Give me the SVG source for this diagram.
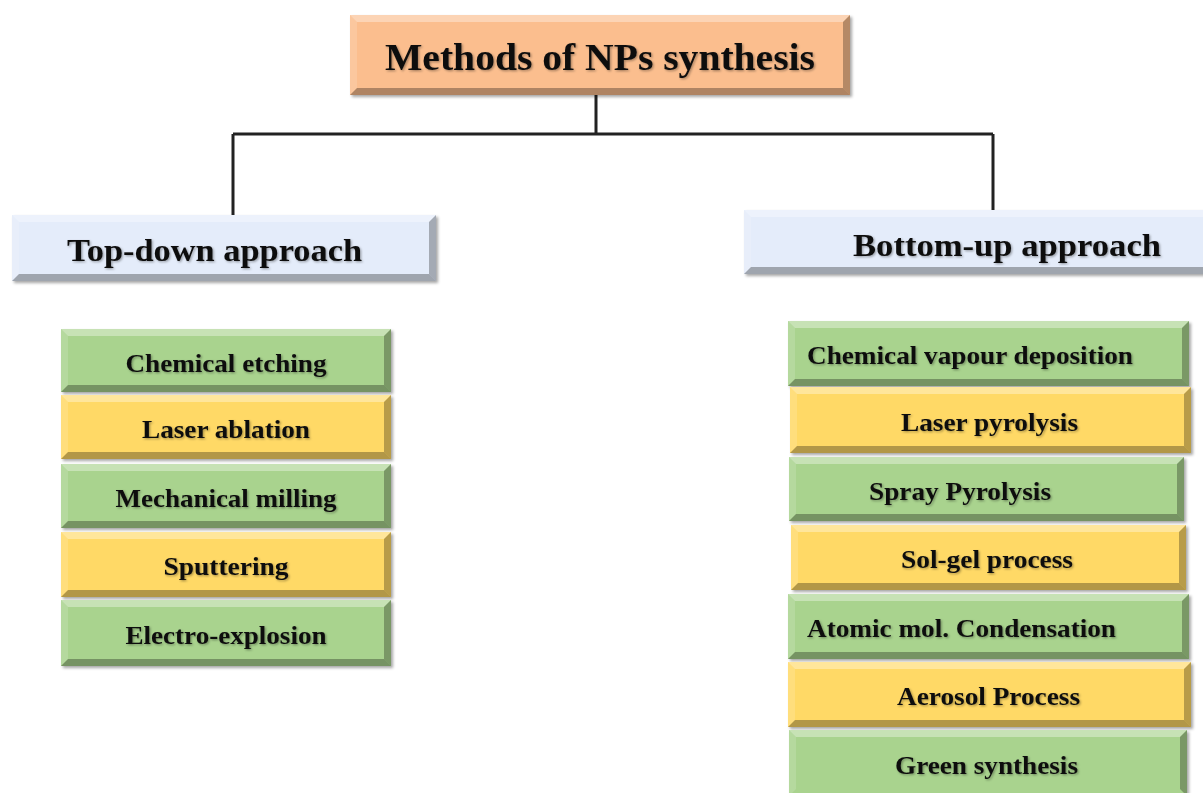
<svg xmlns="http://www.w3.org/2000/svg" width="1203" height="793" viewBox="0 0 1203 793">
<defs>
<filter id="sh" x="-5%" y="-10%" width="110%" height="130%">
<feDropShadow dx="2" dy="2" stdDeviation="1.5" flood-color="#000" flood-opacity="0.35"/>
</filter>
<filter id="tsh" x="-5%" y="-20%" width="110%" height="140%">
<feDropShadow dx="1.2" dy="1.2" stdDeviation="0.8" flood-color="#000" flood-opacity="0.35"/>
</filter>
</defs>
<style>
.orange{fill:#FBBE8E}
.blue{fill:#E4ECFA}
.green{fill:#A9D38E}
.yellow{fill:#FFD966}
.box{filter:url(#sh)}
.bt{fill:#fff;fill-opacity:0.35}
.bl{fill:#fff;fill-opacity:0.15}
.br{fill:#000;fill-opacity:0.28}
.bb{fill:#000;fill-opacity:0.3}
text{font-family:"Liberation Serif","Times New Roman",serif;font-weight:bold;fill:#111;filter:url(#tsh)}
.t0{font-size:38px}
.t1{font-size:32px}
.t2{font-size:26px}
.conn{stroke:#222;stroke-width:3;fill:none}
</style>

<g id="connectors">
<path class="conn" d="M596 95 V134 M233 134 H993 M233 134 V215 M993 134 V210"/>
</g>

<g id="title">
<rect class="box orange" x="350" y="15" width="500" height="80"/>
<polygon class="bt" points="350,15 850,15 843,22 357,22"/>
<polygon class="bl" points="350,15 357,22 357,88 350,95"/>
<polygon class="br" points="850,15 843,22 843,88 850,95"/>
<polygon class="bb" points="350,95 850,95 843,88 357,88"/>
<text class="t0" x="600" y="70" text-anchor="middle" textLength="430" lengthAdjust="spacingAndGlyphs">Methods of NPs synthesis</text>
</g>

<g id="top-down">
<rect class="box blue" x="12" y="215" width="424" height="66"/>
<polygon class="bt" points="12,215 436,215 429,222 19,222"/>
<polygon class="bl" points="12,215 19,222 19,274 12,281"/>
<polygon class="br" points="436,215 429,222 429,274 436,281"/>
<polygon class="bb" points="12,281 436,281 429,274 19,274"/>
<text class="t1" x="67" y="261" textLength="295" lengthAdjust="spacingAndGlyphs">Top-down approach</text>
</g>

<g id="bottom-up">
<rect class="box blue" x="744" y="210" width="470" height="64"/>
<polygon class="bt" points="744,210 1214,210 1207,217 751,217"/>
<polygon class="bl" points="744,210 751,217 751,267 744,274"/>
<polygon class="bb" points="744,274 1214,274 1207,267 751,267"/>
<text class="t1" x="853" y="256" textLength="308" lengthAdjust="spacingAndGlyphs">Bottom-up approach</text>
</g>

<g id="chemical-etching">
<rect class="box green" x="61" y="329" width="330" height="63"/>
<polygon class="bt" points="61,329 391,329 384,336 68,336"/>
<polygon class="bl" points="61,329 68,336 68,385 61,392"/>
<polygon class="br" points="391,329 384,336 384,385 391,392"/>
<polygon class="bb" points="61,392 391,392 384,385 68,385"/>
<text class="t2" x="226" y="372" text-anchor="middle" textLength="201" lengthAdjust="spacingAndGlyphs">Chemical etching</text>
</g>

<g id="laser-ablation">
<rect class="box yellow" x="61" y="395" width="330" height="64"/>
<polygon class="bt" points="61,395 391,395 384,402 68,402"/>
<polygon class="bl" points="61,395 68,402 68,452 61,459"/>
<polygon class="br" points="391,395 384,402 384,452 391,459"/>
<polygon class="bb" points="61,459 391,459 384,452 68,452"/>
<text class="t2" x="226" y="438" text-anchor="middle" textLength="168" lengthAdjust="spacingAndGlyphs">Laser ablation</text>
</g>

<g id="mechanical-milling">
<rect class="box green" x="61" y="464" width="330" height="64"/>
<polygon class="bt" points="61,464 391,464 384,471 68,471"/>
<polygon class="bl" points="61,464 68,471 68,521 61,528"/>
<polygon class="br" points="391,464 384,471 384,521 391,528"/>
<polygon class="bb" points="61,528 391,528 384,521 68,521"/>
<text class="t2" x="226" y="507" text-anchor="middle" textLength="221" lengthAdjust="spacingAndGlyphs">Mechanical milling</text>
</g>

<g id="sputtering">
<rect class="box yellow" x="61" y="532" width="330" height="65"/>
<polygon class="bt" points="61,532 391,532 384,539 68,539"/>
<polygon class="bl" points="61,532 68,539 68,590 61,597"/>
<polygon class="br" points="391,532 384,539 384,590 391,597"/>
<polygon class="bb" points="61,597 391,597 384,590 68,590"/>
<text class="t2" x="226" y="575" text-anchor="middle" textLength="125" lengthAdjust="spacingAndGlyphs">Sputtering</text>
</g>

<g id="electro-explosion">
<rect class="box green" x="61" y="600" width="330" height="66"/>
<polygon class="bt" points="61,600 391,600 384,607 68,607"/>
<polygon class="bl" points="61,600 68,607 68,659 61,666"/>
<polygon class="br" points="391,600 384,607 384,659 391,666"/>
<polygon class="bb" points="61,666 391,666 384,659 68,659"/>
<text class="t2" x="226" y="644" text-anchor="middle" textLength="201" lengthAdjust="spacingAndGlyphs">Electro-explosion</text>
</g>

<g id="chemical-vapour-deposition">
<rect class="box green" x="788" y="321" width="401" height="65"/>
<polygon class="bt" points="788,321 1189,321 1182,328 795,328"/>
<polygon class="bl" points="788,321 795,328 795,379 788,386"/>
<polygon class="br" points="1189,321 1182,328 1182,379 1189,386"/>
<polygon class="bb" points="788,386 1189,386 1182,379 795,379"/>
<text class="t2" x="807" y="364" textLength="326" lengthAdjust="spacingAndGlyphs">Chemical vapour deposition</text>
</g>

<g id="laser-pyrolysis">
<rect class="box yellow" x="790" y="387" width="401" height="66"/>
<polygon class="bt" points="790,387 1191,387 1184,394 797,394"/>
<polygon class="bl" points="790,387 797,394 797,446 790,453"/>
<polygon class="br" points="1191,387 1184,394 1184,446 1191,453"/>
<polygon class="bb" points="790,453 1191,453 1184,446 797,446"/>
<text class="t2" x="901" y="431" textLength="177" lengthAdjust="spacingAndGlyphs">Laser pyrolysis</text>
</g>

<g id="spray-pyrolysis">
<rect class="box green" x="789" y="457" width="395" height="64"/>
<polygon class="bt" points="789,457 1184,457 1177,464 796,464"/>
<polygon class="bl" points="789,457 796,464 796,514 789,521"/>
<polygon class="br" points="1184,457 1177,464 1177,514 1184,521"/>
<polygon class="bb" points="789,521 1184,521 1177,514 796,514"/>
<text class="t2" x="869" y="500" textLength="182" lengthAdjust="spacingAndGlyphs">Spray Pyrolysis</text>
</g>

<g id="sol-gel-process">
<rect class="box yellow" x="791" y="525" width="395" height="65"/>
<polygon class="bt" points="791,525 1186,525 1179,532 798,532"/>
<polygon class="bl" points="791,525 798,532 798,583 791,590"/>
<polygon class="br" points="1186,525 1179,532 1179,583 1186,590"/>
<polygon class="bb" points="791,590 1186,590 1179,583 798,583"/>
<text class="t2" x="901" y="568" textLength="172" lengthAdjust="spacingAndGlyphs">Sol-gel process</text>
</g>

<g id="atomic-mol-condensation">
<rect class="box green" x="788" y="594" width="401" height="65"/>
<polygon class="bt" points="788,594 1189,594 1182,601 795,601"/>
<polygon class="bl" points="788,594 795,601 795,652 788,659"/>
<polygon class="br" points="1189,594 1182,601 1182,652 1189,659"/>
<polygon class="bb" points="788,659 1189,659 1182,652 795,652"/>
<text class="t2" x="807" y="637" textLength="309" lengthAdjust="spacingAndGlyphs">Atomic mol. Condensation</text>
</g>

<g id="aerosol-process">
<rect class="box yellow" x="788" y="662" width="403" height="65"/>
<polygon class="bt" points="788,662 1191,662 1184,669 795,669"/>
<polygon class="bl" points="788,662 795,669 795,720 788,727"/>
<polygon class="br" points="1191,662 1184,669 1184,720 1191,727"/>
<polygon class="bb" points="788,727 1191,727 1184,720 795,720"/>
<text class="t2" x="897" y="705" textLength="183" lengthAdjust="spacingAndGlyphs">Aerosol Process</text>
</g>

<g id="green-synthesis">
<rect class="box green" x="789" y="730" width="398" height="66"/>
<polygon class="bt" points="789,730 1187,730 1180,737 796,737"/>
<polygon class="bl" points="789,730 796,737 796,789 789,796"/>
<polygon class="br" points="1187,730 1180,737 1180,789 1187,796"/>
<text class="t2" x="895" y="774" textLength="183" lengthAdjust="spacingAndGlyphs">Green synthesis</text>
</g>
</svg>
